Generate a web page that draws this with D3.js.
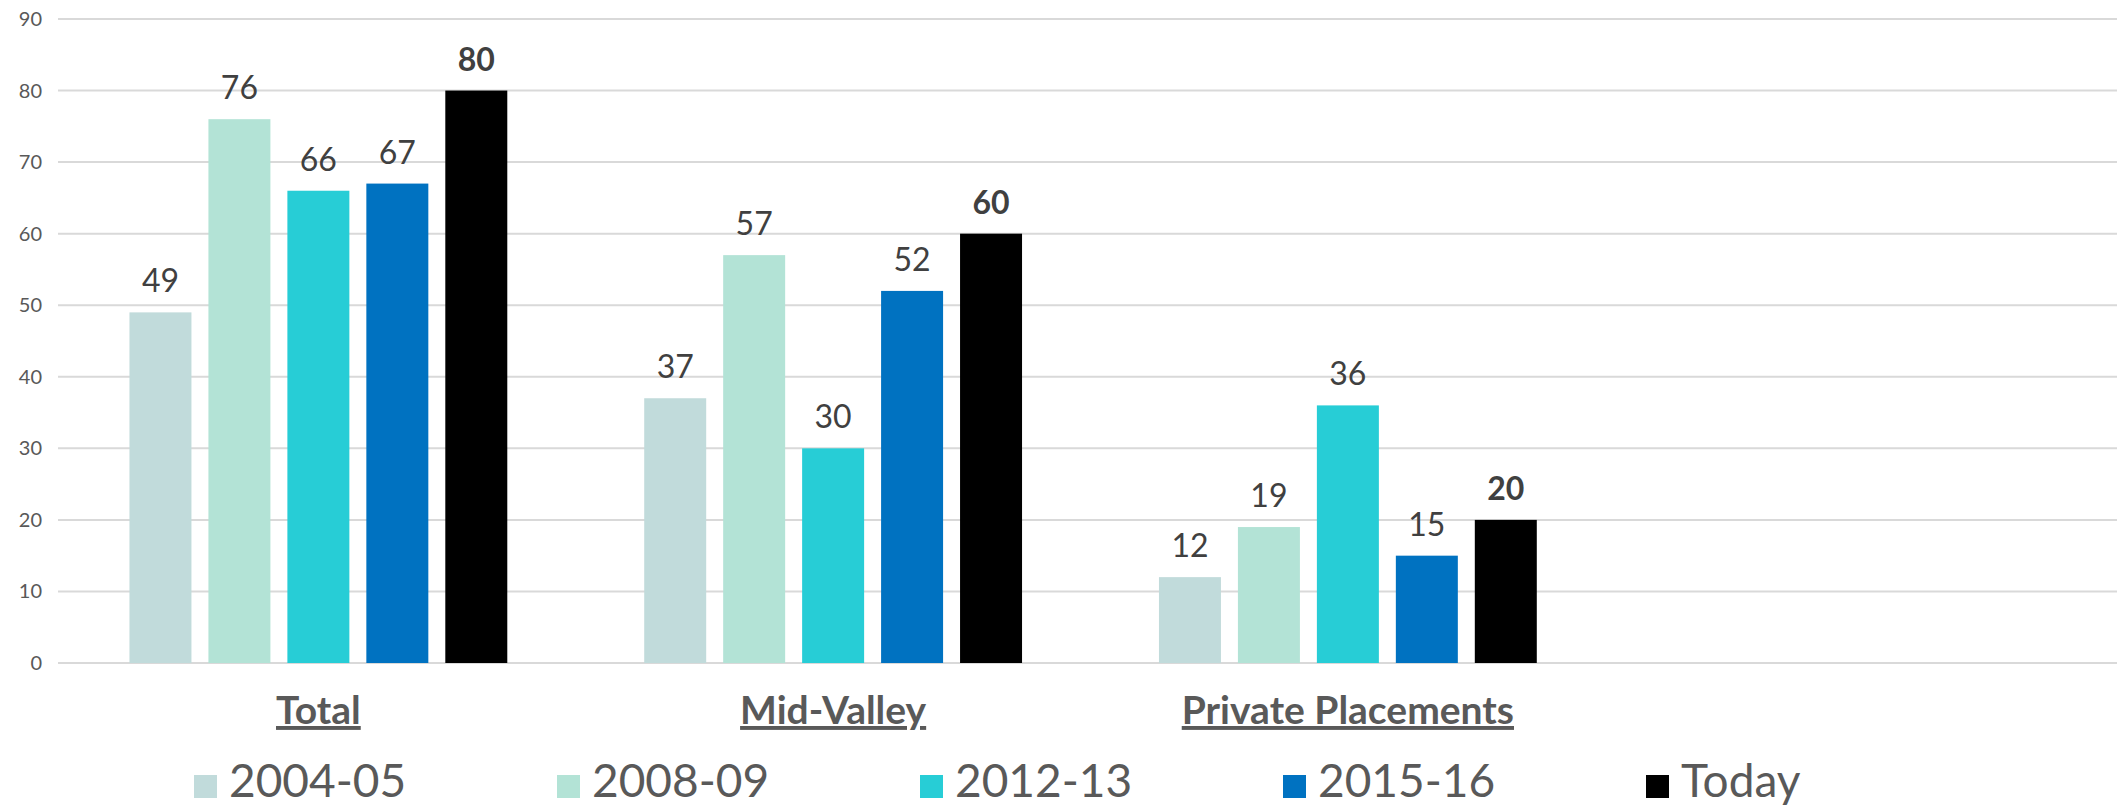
<!DOCTYPE html>
<html>
<head>
<meta charset="utf-8">
<script src="https://cdn.jsdelivr.net/npm/d3@7"></script>
<style>
  body { margin: 0; background: #fff; }
  svg { display: block; font-family: Futura, "Century Gothic", Lato, sans-serif; }
</style>
</head>
<body>
<div id="chart"></div>
<script>
// Chart data
const categories = ["Total", "Mid-Valley", "Private Placements", ""];
const seriesNames = ["2004-05", "2008-09", "2012-13", "2015-16", "Today"];
const seriesColors = ["#c1dbdb", "#b3e3d6", "#27cdd6", "#0072c1", "#000000"];
const values2004 = [49, 37, 12];
const values2008 = [76, 57, 19];
const values2012 = [66, 30, 36];
const values2015 = [67, 52, 15];
const valuesToday = [80, 60, 20];
const yTicks = [0, 10, 20, 30, 40, 50, 60, 70, 80, 90];

const seriesValues = [values2004, values2008, values2012, values2015, valuesToday];

// Dimensions
const width = 2117, height = 807;
const plot = { left: 61, right: 2120, top: 19, bottom: 663 };

const svg = d3.select("#chart").append("svg")
    .attr("width", width)
    .attr("height", height);

// Scales
const x0 = d3.scaleBand()
    .domain(categories)
    .range([plot.left, plot.right])
    .paddingInner(0.266)
    .paddingOuter(0.133);

const x1 = d3.scaleBand()
    .domain(seriesNames)
    .range([0, x0.bandwidth()])
    .paddingInner(0.215);

const y = d3.scaleLinear()
    .domain([0, 90])
    .range([plot.bottom, plot.top]);

// Gridlines
svg.append("g")
    .selectAll("line")
    .data(yTicks)
    .join("line")
    .attr("x1", 58)
    .attr("x2", width)
    .attr("y1", d => y(d))
    .attr("y2", d => y(d))
    .attr("stroke", "#d9d9d9")
    .attr("stroke-width", 2);

// Y axis labels
svg.append("g")
    .attr("font-size", 20)
    .attr("fill", "#595959")
    .attr("text-anchor", "end")
    .selectAll("text")
    .data(yTicks)
    .join("text")
    .attr("x", 42)
    .attr("y", d => y(d))
    .attr("dy", "0.35em")
    .text(d => d);

// Bars, grouped by category
const rows = categories.slice(0, 3).map(function(cat, i) {
    return {
        cat: cat,
        bars: seriesNames.map(function(s, j) {
            return { series: s, value: seriesValues[j][i], color: seriesColors[j], bold: s === "Today" };
        })
    };
});

const group = svg.append("g")
    .selectAll("g")
    .data(rows)
    .join("g")
    .attr("transform", d => `translate(${x0(d.cat)},0)`);

group.selectAll("rect")
    .data(d => d.bars)
    .join("rect")
    .attr("x", d => x1(d.series))
    .attr("y", d => y(d.value))
    .attr("width", x1.bandwidth())
    .attr("height", d => y(0) - y(d.value))
    .attr("fill", d => d.color);

group.selectAll("text")
    .data(d => d.bars)
    .join("text")
    .attr("x", d => x1(d.series) + x1.bandwidth() / 2)
    .attr("y", d => y(d.value) - 20)
    .attr("text-anchor", "middle")
    .attr("font-size", 32)
    .attr("font-weight", d => d.bold ? "bold" : "normal")
    .attr("fill", "#404040")
    .text(d => d.value);

// Category labels
svg.append("g")
    .selectAll("text")
    .data(categories.filter(c => c !== ""))
    .join("text")
    .attr("x", d => x0(d) + x0.bandwidth() / 2)
    .attr("y", 724)
    .attr("text-anchor", "middle")
    .attr("font-size", 39)
    .attr("font-weight", "bold")
    .attr("fill", "#595959")
    .attr("text-decoration", "underline")
    .text(d => d);

// Legend
const legend = svg.append("g")
    .selectAll("g")
    .data(seriesNames)
    .join("g")
    .attr("transform", (d, i) => `translate(${194 + i * 363},0)`);

legend.append("rect")
    .attr("x", 0)
    .attr("y", 775)
    .attr("width", 23)
    .attr("height", 23)
    .attr("fill", (d, i) => seriesColors[i]);

legend.append("text")
    .attr("x", 35)
    .attr("y", 797)
    .attr("font-size", 46)
    .attr("fill", "#595959")
    .text(d => d);
</script>
</body>
</html>
